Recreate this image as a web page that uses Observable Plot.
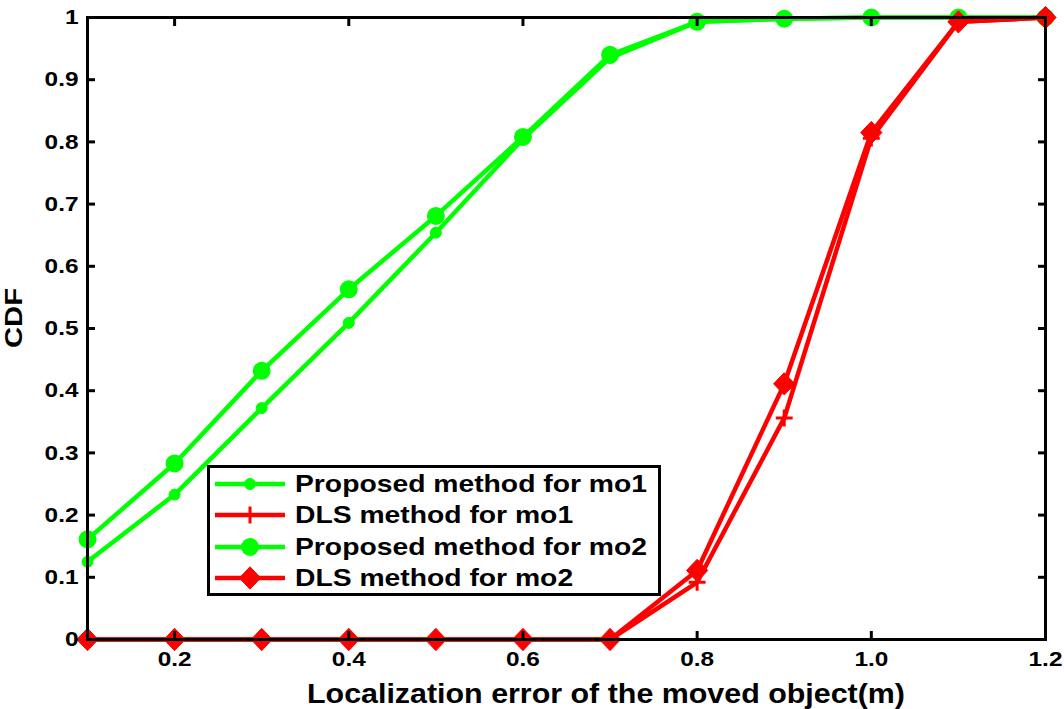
<!DOCTYPE html>
<html><head><meta charset="utf-8">
<script src="https://cdn.jsdelivr.net/npm/d3@7"></script>
<script src="https://cdn.jsdelivr.net/npm/@observablehq/plot@0.6"></script>
<style>
body{margin:0;background:#fff;font-family:"Liberation Sans",Arial,sans-serif;}
#wrap{position:relative;width:1064px;height:709px;overflow:hidden;}
#legend{position:absolute;left:207px;top:465px;width:454px;height:131px;border:3px solid #000;background:#fff;box-sizing:border-box;padding-top:0px;}
.row{display:flex;align-items:center;height:31.5px;}
.row svg{margin-left:3px;margin-right:8px;flex:none;}
.row span{display:inline-block;font-weight:bold;font-size:24px;color:#000;white-space:nowrap;transform-origin:0 50%;}
</style></head>
<body><div id="wrap"></div>
<script>
const xs = [0.1,0.2,0.3,0.4,0.5,0.6,0.7,0.8,0.9,1.0,1.1,1.2];
const proposedMo1 = [0.125,0.233,0.372,0.509,0.654,0.805,0.935,0.993,0.998,1,1,1];
const dlsMo1      = [0,0,0,0,0,0,0,0.092,0.356,0.806,0.993,1];
const proposedMo2 = [0.161,0.283,0.432,0.563,0.681,0.808,0.940,0.993,0.998,1,1,1];
const dlsMo2      = [0,0,0,0,0,0,0,0.111,0.411,0.815,0.993,1];
const seriesNames = ["Proposed method for mo1","DLS method for mo1","Proposed method for mo2","DLS method for mo2"];
const seriesValues = [proposedMo1, dlsMo1, proposedMo2, dlsMo2];
const seriesColors = ["#00ff00","#ff0000","#00ff00","#ff0000"];
const xTicks = [0.2,0.4,0.6,0.8,1.0,1.2];
const yTicks = [0,0.1,0.2,0.3,0.4,0.5,0.6,0.7,0.8,0.9,1];
const xLabel = "Localization error of the moved object(m)";
const yLabel = "CDF";

const diamondSym = {draw(ctx, size){ const r = Math.sqrt(size/2)*1.05; ctx.moveTo(0,-r); ctx.lineTo(r*0.95,0); ctx.lineTo(0,r); ctx.lineTo(-r*0.95,0); ctx.closePath(); }};
const markerSpecs = [
  {symbol:"circle", r:5.5, fill:seriesColors[0], stroke:seriesColors[0], strokeWidth:1},
  {symbol:"plus", r:5.5, fill:"none", stroke:seriesColors[1], strokeWidth:3},
  {symbol:"circle", r:8, fill:seriesColors[2], stroke:seriesColors[2], strokeWidth:2},
  {symbol:diamondSym, r:8.5, fill:seriesColors[3], stroke:seriesColors[3], strokeWidth:1}
];

const table = seriesNames.map((name,i)=>xs.map((x,j)=>({name, x, y: seriesValues[i][j]})));

const marks = [];
table.forEach((data,i)=>{
  marks.push(Plot.line(data,{x:"x",y:"y",stroke:seriesColors[i],strokeWidth:4.5}));
  marks.push(Plot.dot(data,{x:"x",y:"y",...markerSpecs[i]}));
});

const chart = Plot.plot({
  width:1064, height:709,
  marginLeft:87, marginRight:19, marginTop:17, marginBottom:70,
  style:{fontFamily:'"Liberation Sans",Arial,sans-serif', fontWeight:"bold", background:"#fff", overflow:"visible"},
  x:{domain:[0.1,1.2]},
  y:{domain:[0,1]},
  marks:[
    ...marks,
    Plot.axisX({anchor:"bottom", ticks:xTicks, tickSize:-8, strokeWidth:3, tickFormat:()=>"", label:null}),
    Plot.axisX({anchor:"top", ticks:xTicks, tickSize:-8, strokeWidth:3, tickFormat:()=>"", label:null}),
    Plot.axisY({anchor:"left", ticks:yTicks, tickSize:-8, strokeWidth:3, tickFormat:()=>"", label:null}),
    Plot.axisY({anchor:"right", ticks:yTicks, tickSize:-8, strokeWidth:3, tickFormat:()=>"", label:null}),
    Plot.axisX({anchor:"bottom", ticks:xTicks, tickSize:0, tickPadding:12, fontSize:21, fill:"#000", tickFormat:d=>d.toFixed(1), label:null}),
    Plot.axisY({anchor:"left", ticks:yTicks, tickSize:0, tickPadding:9, fontSize:21, fill:"#000", tickFormat:d=>String(d), label:null}),
    Plot.frame({stroke:"#000", strokeWidth:3})
  ]
});
document.getElementById("wrap").appendChild(chart);

// horizontally stretch tick labels (reference glyphs are wider)
chart.querySelectorAll('g[aria-label$="tick label"] text').forEach(t=>{
  const w = t.getComputedTextLength();
  if (w > 0) { t.setAttribute("textLength", (w*1.16).toFixed(1)); t.setAttribute("lengthAdjust","spacingAndGlyphs"); }
});

// axis titles
const sx = chart.scale("x"), sy = chart.scale("y");
const svg = d3.select(chart);
const xMid = (sx.range[0]+sx.range[1])/2;
svg.append("text").text(xLabel)
  .attr("x", xMid+40).attr("y", 703)
  .attr("text-anchor","middle").attr("font-size",28).attr("font-weight","bold").attr("fill","#000")
  .attr("textLength",598).attr("lengthAdjust","spacingAndGlyphs");
const yMid = (sy.range[0]+sy.range[1])/2;
svg.append("text").text(yLabel)
  .attr("transform",`translate(22,${yMid-10}) rotate(-90)`)
  .attr("text-anchor","middle").attr("font-size",24).attr("font-weight","bold").attr("fill","#000")
  .attr("textLength",60).attr("lengthAdjust","spacingAndGlyphs");

// Legend
const legend = document.createElement("div");
legend.id = "legend";
const spans = [];
seriesNames.forEach((name,i)=>{
  const row = document.createElement("div");
  row.className = "row";
  const lsvg = d3.create("svg").attr("width",74).attr("height",26);
  lsvg.append("line").attr("x1",2).attr("x2",72).attr("y1",13).attr("y2",13).attr("stroke",seriesColors[i]).attr("stroke-width",4.5);
  const m = markerSpecs[i];
  const symType = m.symbol==="circle"?d3.symbolCircle:m.symbol==="plus"?d3.symbolPlus:m.symbol;
  lsvg.append("path").attr("transform","translate(37,13)")
    .attr("d", d3.symbol(symType, Math.PI*m.r*m.r)())
    .attr("fill",m.fill).attr("stroke",m.stroke).attr("stroke-width",m.strokeWidth);
  row.appendChild(lsvg.node());
  const sp = document.createElement("span");
  sp.textContent = name;
  row.appendChild(sp);
  spans.push(sp);
  legend.appendChild(row);
});
document.getElementById("wrap").appendChild(legend);
const w0 = spans[0].getBoundingClientRect().width;
const k = 352 / w0;
spans.forEach(s=>{ s.style.transform = `scaleX(${k})`; });
</script></body></html>
